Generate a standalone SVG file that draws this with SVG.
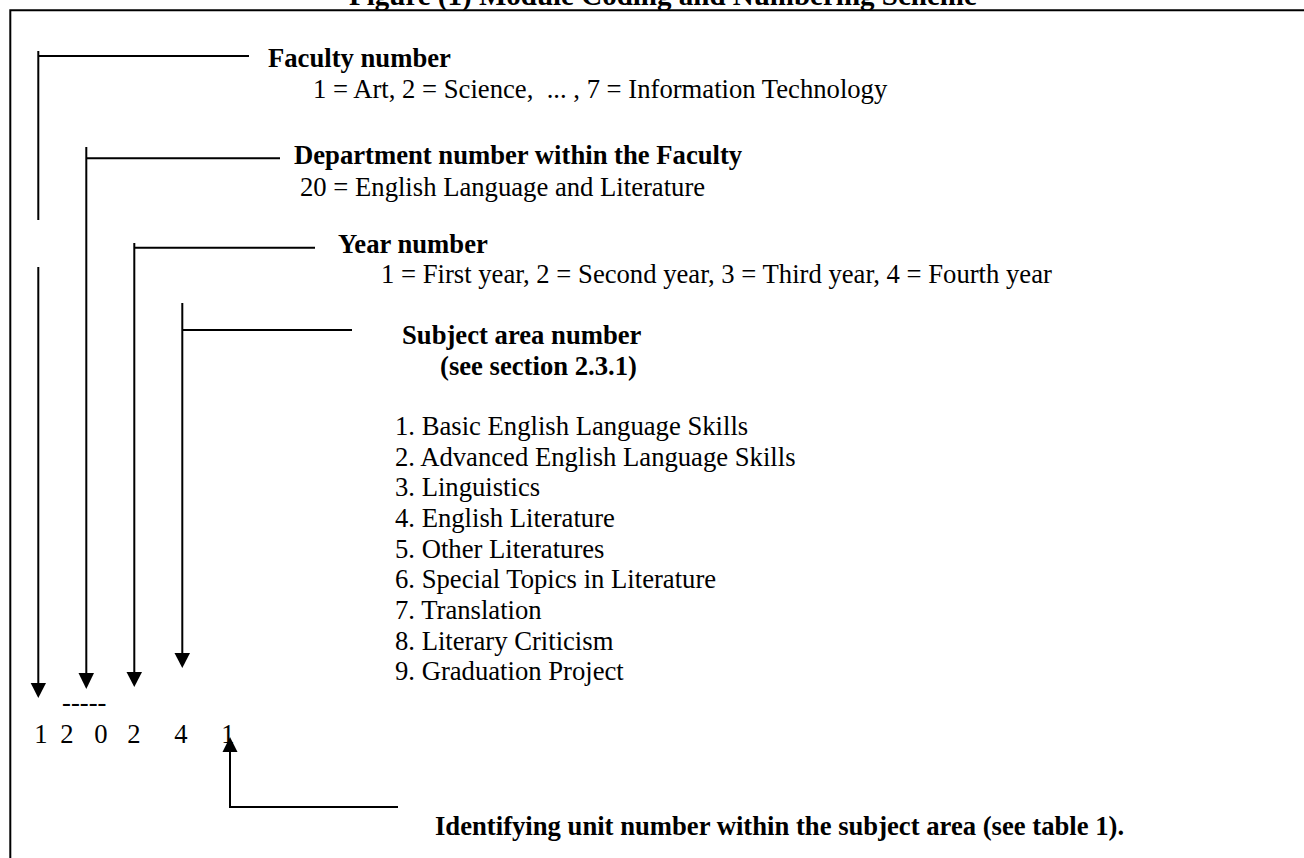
<svg xmlns="http://www.w3.org/2000/svg" width="1304" height="858" viewBox="0 0 1304 858">
<defs>
<style>
text{font-family:"Liberation Serif","Times New Roman",serif;font-size:26.67px;fill:#000;white-space:pre}
.b{font-weight:bold}
.t{font-size:29px}
.ln{stroke:#000;stroke-width:2;fill:none}
.ah{fill:#000}
</style>
</defs>
<rect width="1304" height="858" fill="#fff"/>
<g id="title"><text class="b t" x="349" y="5">Figure (1) Module Coding and Numbering Scheme</text></g>
<g id="frame"><path class="ln" d="M10.3 858V10.3H1304"/></g>
<g id="connectors">
<path class="ln" d="M38.3 51V220M38.3 56H249M38.3 267V684"/>
<polygon class="ah" points="30.7,683 46,683 38.3,698"/>
<path class="ln" d="M86.3 147V674M86.3 158.3H280"/>
<polygon class="ah" points="78.5,673 94,673 86.3,689"/>
<path class="ln" d="M134.3 243V673M134.3 247.7H315"/>
<polygon class="ah" points="126.5,672 142,672 134.3,687"/>
<path class="ln" d="M182.3 303V654M182.3 330H352"/>
<polygon class="ah" points="174.5,653 190,653 182.3,668"/>
<path class="ln" d="M230 751V807H398"/>
<polygon class="ah" points="222.5,752 237.5,752 230,737"/>
</g>
<g id="faculty"><text class="b" x="268" y="67">Faculty number</text><text x="313" y="98">1 = Art, 2 = Science,  ... , 7 = Information Technology</text></g>
<g id="department"><text class="b" x="294" y="164">Department number within the Faculty</text><text x="300" y="196">20 = English Language and Literature</text></g>
<g id="year"><text class="b" x="338" y="253">Year number</text><text x="381" y="283">1 = First year, 2 = Second year, 3 = Third year, 4 = Fourth year</text></g>
<g id="subject"><text class="b" x="402" y="344">Subject area number</text><text class="b" x="440" y="375">(see section 2.3.1)</text>
<text x="395" y="435">1. Basic English Language Skills</text>
<text x="395" y="465.7">2. Advanced English Language Skills</text>
<text x="395" y="496.3">3. Linguistics</text>
<text x="395" y="527">4. English Literature</text>
<text x="395" y="557.7">5. Other Literatures</text>
<text x="395" y="588.3">6. Special Topics in Literature</text>
<text x="395" y="619">7. Translation</text>
<text x="395" y="649.7">8. Literary Criticism</text>
<text x="395" y="680.3">9. Graduation Project</text></g>
<g id="code"><text x="62" y="711">-----</text>
<text><tspan x="34.3" y="743">1</tspan> <tspan x="60.3" y="743">2</tspan> <tspan x="94.3" y="743">0</tspan> <tspan x="127.3" y="743">2</tspan> <tspan x="174.3" y="743">4</tspan> <tspan x="221.3" y="743">1</tspan></text></g>
<g id="unit"><text class="b" x="435" y="835">Identifying unit number within the subject area (see table 1).</text></g>
</svg>
